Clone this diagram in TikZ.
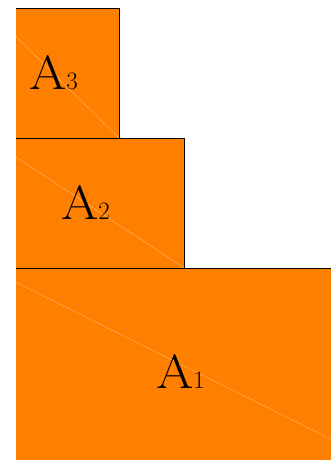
\documentclass[tikz,border=0pt]{standalone}
\begin{document}
\begin{tikzpicture}[x=1pt,y=1pt,
  sheet/.style={fill=sheetorange,draw=black,line width=0.8pt},
  diag/.style={draw=white,opacity=0.45,line width=0.4pt},
  lbl/.style={anchor=base west,inner sep=0pt,font=\fontsize{48}{50}\selectfont}]
\definecolor{sheetorange}{RGB}{255,128,0}
\useasboundingbox (0,0) rectangle (331,460);
\begin{scope}
\clip (16,0) rectangle (331,460);
% A1
\path[sheet] (-13,-4) rectangle (381,192);
\path[diag] (-13,192) -- (381,-4);
% A2
\path[sheet] (-13,192) rectangle (184,322);
\path[diag] (-13,322) -- (184,192);
% A3
\path[sheet] (-13,322) rectangle (119,452);
\path[diag] (-13,452) -- (119,322);
\end{scope}
\node[lbl] (a3) at (29,370) {\scalebox{1.12}[1]{A}{\fontsize{25}{27}\selectfont 3}};
\node[lbl] (a2) at (61,240) {\scalebox{1.12}[1]{A}{\fontsize{25}{27}\selectfont 2}};
\node[lbl] (a1) at (156,71) {\scalebox{1.12}[1]{A}{\fontsize{25}{27}\selectfont 1}};
\end{tikzpicture}
\end{document}
